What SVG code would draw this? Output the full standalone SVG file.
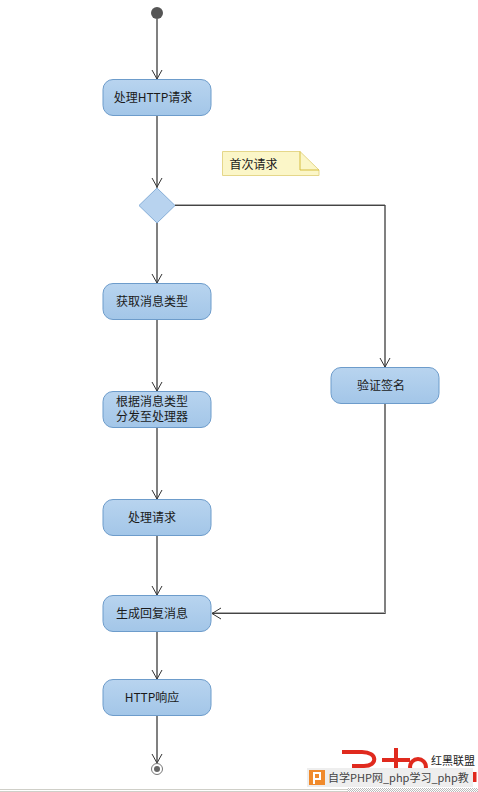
<svg xmlns="http://www.w3.org/2000/svg" width="478" height="792" viewBox="0 0 478 792">
<style>
.n{fill:url(#g);stroke:#6d9ccb;stroke-width:1}
.t{font:12px "Noto Sans CJK SC","Liberation Sans",sans-serif;fill:#1a1a1a;text-anchor:middle}
.c{fill:none;stroke:#808080;stroke-width:2}
.l{fill:none;stroke:#aaa;stroke-width:1}
.k{fill:none;stroke:#444;stroke-width:1}
.h{fill:none;stroke:#333;stroke-width:1}
</style>
<defs>
<linearGradient id="g" x1="0" y1="0" x2="0" y2="1"><stop offset="0" stop-color="#b8d4ef"/><stop offset="1" stop-color="#a3c6e8"/></linearGradient>
<pattern id="d" width="2" height="2" patternUnits="userSpaceOnUse"><rect width="2" height="2" fill="#fff"/><rect width="1" height="1" fill="#bbb"/><rect x="1" y="1" width="1" height="1" fill="#bbb"/></pattern>
</defs>
<rect width="478" height="792" fill="#fff"/>
<g id="connectors">
<path class="c" d="M157 19V79M157 115V188M157 223V283M157 319V391M157 427V499M157 535V595M157 631V679M157 715V762M385 205V367M385 403V614"/>
<path class="l" d="M175 204.500H385M212 612.500H385"/>
<path class="k" d="M175 205.500H385M212 613.500H385"/>
<path class="h" d="M152 70L157 79L162 70M152 178L157 187L162 178M152 274L157 283L162 274M152 382L157 391L162 382M152 490L157 499L162 490M152 586L157 595L162 586M152 670L157 679L162 670M152 754L157 763L162 754M380 358L385 367L390 358M221 608L212 613.500L221 619"/>
</g>
<g id="start"><circle cx="157" cy="13" r="6" fill="#555"/></g>
<g id="n1"><rect class="n" x="103" y="79.500" width="108" height="36" rx="10"/><text class="t" x="153" y="101.500">处理HTTP请求</text></g>
<g id="note"><path d="M222.500 151.500H300L319 170V175.500H222.500Z" fill="#fbf6c8" stroke="#e5d78a"/><path d="M300 151.500V170H319" fill="none" stroke="#d5bd3f"/><text class="t" x="253.500" y="168.500">首次请求</text></g>
<g id="decision"><path d="M157 188L175 205.500L157 223L139 205.500Z" fill="#b8d3ef" stroke="#85aed8"/></g>
<g id="n2"><rect class="n" x="103" y="283.500" width="108" height="36" rx="10"/><text class="t" x="152" y="305.500">获取消息类型</text></g>
<g id="n3"><rect class="n" x="103" y="391.500" width="108" height="36" rx="10"/><text class="t"><tspan x="152" y="405.500">根据消息类型</tspan><tspan x="152" y="420.500">分发至处理器</tspan></text></g>
<g id="n4"><rect class="n" x="103" y="499.500" width="108" height="36" rx="10"/><text class="t" x="152" y="521.500">处理请求</text></g>
<g id="n5"><rect class="n" x="103" y="595.500" width="108" height="36" rx="10"/><text class="t" x="152" y="617.500">生成回复消息</text></g>
<g id="n6"><rect class="n" x="103" y="679.500" width="108" height="36" rx="10"/><text class="t" x="152" y="701.500">HTTP响应</text></g>
<g id="n7"><rect class="n" x="331" y="367.500" width="108" height="36" rx="10"/><text class="t" x="381" y="389.500">验证签名</text></g>
<g id="end"><circle cx="157" cy="769" r="5.500" fill="#fff" stroke="#777"/><circle cx="157" cy="769" r="3" fill="#666"/></g>
<path d="M0 789.500H347M0 791.500H347" stroke="#cfcfc8" fill="none"/>
<rect x="347" y="788" width="131" height="4" fill="url(#d)"/>
<g fill="none" stroke="#e02a1e" stroke-width="4">
<path d="M342 752H362C378 752 378 766 364 766H352"/>
<path d="M396 748V772M382 760H410"/>
<circle cx="418" cy="767" r="8"/>
<path d="M474.500 772V782"/>
</g>
<text x="431" y="765" font-family="'Noto Sans CJK SC',sans-serif" font-size="11" fill="#222">红黑联盟</text>
<rect x="307" y="768" width="166" height="19" fill="#eee"/>
<rect x="309" y="770" width="16" height="15" fill="#f08a2c"/>
<path d="M313 773H320V779H315M314 772V784" fill="none" stroke="#fff" stroke-width="2"/>
<text x="328" y="782" font-family="'Noto Sans CJK SC','Liberation Sans',sans-serif" font-size="11" fill="#444">自学PHP网_php学习_php教</text>
</svg>
